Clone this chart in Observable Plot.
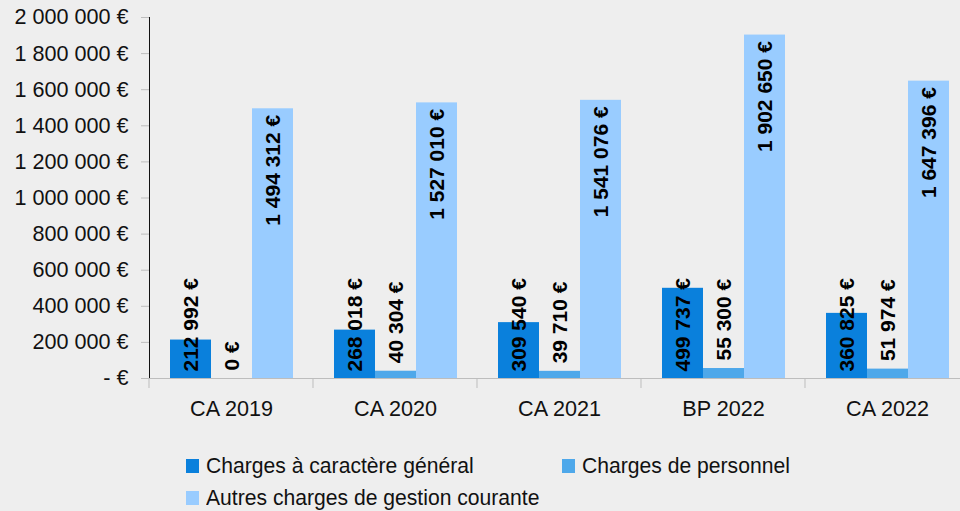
<!DOCTYPE html>
<html>
<head>
<meta charset="utf-8">
<script src="https://cdn.jsdelivr.net/npm/d3@7"></script>
<script src="https://cdn.jsdelivr.net/npm/@observablehq/plot@0.6"></script>
<style>
  html, body { margin: 0; padding: 0; background: #eeeeee; }
  #wrap { position: relative; width: 960px; height: 511px; overflow: hidden; background: #eeeeee;
          font-family: "Liberation Sans", Arial, sans-serif; }
  #chart svg { display: block; }
  g[aria-label^="y-axis"] line, g[aria-label^="y-axis"] path { stroke: #bdbdbd; stroke-opacity: 1; }
  .legend { position: absolute; left: 0; top: 440px; width: 960px; height: 71px; }
  .item { position: absolute; display: flex; align-items: center; height: 24px; }
  .sw { width: 13px; height: 14px; margin-right: 7px; flex: none; }
  .lab { font-size: 22px; color: #111; white-space: nowrap; display: inline-block;
         transform: scaleX(0.96); transform-origin: left center; }
</style>
</head>
<body>
<div id="wrap">
  <div id="chart"></div>
  <div class="legend" id="legend"></div>
</div>
<script>
const categories = ["CA 2019", "CA 2020", "CA 2021", "BP 2022", "CA 2022"];
const seriesNames = ["Charges à caractère général", "Charges de personnel", "Autres charges de gestion courante"];
const chargesGenerales = [212992, 268018, 309540, 499737, 360825];
const chargesPersonnel = [0, 40304, 39710, 55300, 51974];
const autresCharges = [1494312, 1527010, 1541076, 1902650, 1647396];
const colors = ["#0a80dc", "#4ea8ea", "#99ccff"];
const yTicks = [0, 200000, 400000, 600000, 800000, 1000000, 1200000, 1400000, 1600000, 1800000, 2000000];

const seriesValues = [chargesGenerales, chargesPersonnel, autresCharges];
const data = [];
categories.forEach((c, i) => {
  seriesNames.forEach((s, j) => data.push({cat: c, series: s, value: seriesValues[j][i]}));
});

const num = v => d3.format(",")(v).replace(/,/g, " ");
const euro = v => num(v) + " €";
const yFmt = v => v === 0 ? "- €" : euro(v);

const labelStyle = {fontWeight: "bold", fontSize: 21, fill: "#000", rotate: -90};

const plot = Plot.plot({
  width: 960,
  height: 440,
  marginTop: 17,
  marginBottom: 62,
  marginLeft: 148,
  marginRight: 0,
  style: {background: "#eeeeee", fontFamily: "'Liberation Sans', Arial, sans-serif", fontSize: "21.6px", color: "#111", overflow: "hidden"},
  fx: {domain: categories, range: [148, 970], padding: 0, label: null, axis: "bottom", tickSize: 0, tickPadding: 22},
  x: {domain: seriesNames, paddingInner: 0, paddingOuter: 0.49, axis: null},
  y: {domain: [0, 2000000], ticks: yTicks, tickFormat: yFmt, tickSize: 8, tickPadding: 13, line: true, label: null},
  color: {domain: seriesNames, range: colors},
  marks: [
    Plot.barY(data, {fx: "cat", x: "series", y: "value", fill: "series"}),
    Plot.ruleY([0], {stroke: "#bdbdbd"}),
    Plot.text(data.filter(d => d.series === seriesNames[0]), {
      fx: "cat", x: "series", y: () => 0, text: d => euro(d.value), textAnchor: "start", dy: -7, ...labelStyle}),
    Plot.text(data.filter(d => d.series === seriesNames[1]), {
      fx: "cat", x: "series", y: "value", text: d => euro(d.value), textAnchor: "start", dy: -8, ...labelStyle}),
    Plot.text(data.filter(d => d.series === seriesNames[2]), {
      fx: "cat", x: "series", y: "value", text: d => euro(d.value), textAnchor: "end", dy: 6, ...labelStyle})
  ]
});
document.getElementById("chart").appendChild(plot);

// category boundary ticks on the x axis, from the fx scale
const fx = plot.scale("fx");
const ys = plot.scale("y");
const y0 = ys.apply(0);
const bounds = categories.map(c => fx.apply(c)).concat([fx.apply(categories[categories.length - 1]) + fx.bandwidth]);
d3.select(plot).append("g").selectAll("line").data(bounds).join("line")
  .attr("x1", d => d).attr("x2", d => d)
  .attr("y1", y0).attr("y2", y0 + 10)
  .attr("stroke", "#bdbdbd");

// legend
const legendPos = [{left: 186, top: 13.5}, {left: 562, top: 13.5}, {left: 186, top: 45.5}];
const legend = d3.select("#legend");
seriesNames.forEach((s, i) => {
  const it = legend.append("div").attr("class", "item")
    .style("left", legendPos[i].left + "px").style("top", legendPos[i].top + "px");
  it.append("div").attr("class", "sw").style("background", colors[i]);
  it.append("span").attr("class", "lab").text(s);
});
</script>
</body>
</html>
